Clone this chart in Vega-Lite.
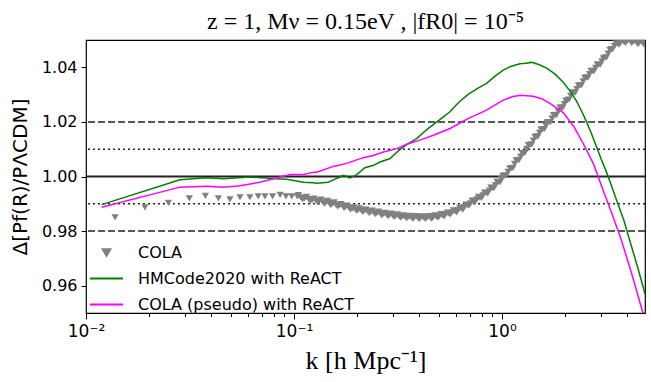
{
  "$schema": "https://vega.github.io/schema/vega-lite/v6.json",
  "width": 559,
  "height": 273,
  "autosize": "none",
  "padding": {"left": 86, "top": 40, "right": 6, "bottom": 69},
  "background": "white",
  "config": {
    "view": {"stroke": "black", "strokeWidth": 1.2},
    "font": "DejaVu Sans",
    "axis": {"grid": false, "domain": false, "tickColor": "black", "labelColor": "black", "titleColor": "black", "labelFont": "DejaVu Sans", "titleFont": "DejaVu Sans", "titleFontWeight": "normal", "labelFontSize": 16, "tickWidth": 1},
    "legend": {
      "title": null,
      "orient": "none",
      "legendX": 3,
      "legendY": 195,
      "labelFontSize": 16,
      "labelFont": "DejaVu Sans",
      "labelColor": "black",
      "labelLimit": 400,
      "symbolSize": 1089,
      "labelOffset": 14,
      "rowPadding": -10,
      "padding": 0
    }
  },
  "title": {"text": "z = 1, Mν = 0.15eV , |fR0| = 10⁻⁵", "font": "Liberation Serif", "fontSize": 24, "fontWeight": "normal", "anchor": "middle", "offset": 6, "color": "black"},
  "datasets": {
    "cola": [
      {"series": "COLA", "k": 0.0138, "v": 0.9850},
      {"series": "COLA", "k": 0.0192, "v": 0.9887},
      {"series": "COLA", "k": 0.0249, "v": 0.9903},
      {"series": "COLA", "k": 0.0314, "v": 0.9920},
      {"series": "COLA", "k": 0.0375, "v": 0.9929},
      {"series": "COLA", "k": 0.0433, "v": 0.9920},
      {"series": "COLA", "k": 0.0492, "v": 0.9916},
      {"series": "COLA", "k": 0.0550, "v": 0.9924},
      {"series": "COLA", "k": 0.0614, "v": 0.9924},
      {"series": "COLA", "k": 0.0673, "v": 0.9927},
      {"series": "COLA", "k": 0.0725, "v": 0.9927},
      {"series": "COLA", "k": 0.0789, "v": 0.9927},
      {"series": "COLA", "k": 0.0858, "v": 0.9933},
      {"series": "COLA", "k": 0.0915, "v": 0.9927},
      {"series": "COLA", "k": 0.0975, "v": 0.9927},
      {"series": "COLA", "k": 0.1037, "v": 0.9927},
      {"series": "COLA", "k": 0.105, "v": 0.9932},
      {"series": "COLA", "k": 0.1075, "v": 0.9924},
      {"series": "COLA", "k": 0.11, "v": 0.9916},
      {"series": "COLA", "k": 0.1125, "v": 0.9920},
      {"series": "COLA", "k": 0.115, "v": 0.9925},
      {"series": "COLA", "k": 0.1175, "v": 0.9917},
      {"series": "COLA", "k": 0.12, "v": 0.9910},
      {"series": "COLA", "k": 0.1225, "v": 0.9914},
      {"series": "COLA", "k": 0.125, "v": 0.9919},
      {"series": "COLA", "k": 0.1275, "v": 0.9912},
      {"series": "COLA", "k": 0.13, "v": 0.9905},
      {"series": "COLA", "k": 0.1325, "v": 0.9910},
      {"series": "COLA", "k": 0.135, "v": 0.9915},
      {"series": "COLA", "k": 0.1375, "v": 0.9907},
      {"series": "COLA", "k": 0.14, "v": 0.9900},
      {"series": "COLA", "k": 0.1425, "v": 0.9905},
      {"series": "COLA", "k": 0.145, "v": 0.9911},
      {"series": "COLA", "k": 0.1475, "v": 0.9903},
      {"series": "COLA", "k": 0.15, "v": 0.9895},
      {"series": "COLA", "k": 0.153, "v": 0.9900},
      {"series": "COLA", "k": 0.156, "v": 0.9905},
      {"series": "COLA", "k": 0.159, "v": 0.9897},
      {"series": "COLA", "k": 0.162, "v": 0.9890},
      {"series": "COLA", "k": 0.165, "v": 0.9894},
      {"series": "COLA", "k": 0.168, "v": 0.9899},
      {"series": "COLA", "k": 0.171, "v": 0.9892},
      {"series": "COLA", "k": 0.174, "v": 0.9885},
      {"series": "COLA", "k": 0.177, "v": 0.9889},
      {"series": "COLA", "k": 0.18, "v": 0.9893},
      {"series": "COLA", "k": 0.1835, "v": 0.9886},
      {"series": "COLA", "k": 0.187, "v": 0.9879},
      {"series": "COLA", "k": 0.1905, "v": 0.9883},
      {"series": "COLA", "k": 0.194, "v": 0.9887},
      {"series": "COLA", "k": 0.197, "v": 0.9880},
      {"series": "COLA", "k": 0.2, "v": 0.9874},
      {"series": "COLA", "k": 0.2035, "v": 0.9878},
      {"series": "COLA", "k": 0.207, "v": 0.9883},
      {"series": "COLA", "k": 0.2105, "v": 0.9876},
      {"series": "COLA", "k": 0.214, "v": 0.9870},
      {"series": "COLA", "k": 0.218, "v": 0.9874},
      {"series": "COLA", "k": 0.222, "v": 0.9879},
      {"series": "COLA", "k": 0.226, "v": 0.9872},
      {"series": "COLA", "k": 0.23, "v": 0.9866},
      {"series": "COLA", "k": 0.234, "v": 0.9870},
      {"series": "COLA", "k": 0.238, "v": 0.9875},
      {"series": "COLA", "k": 0.242, "v": 0.9868},
      {"series": "COLA", "k": 0.246, "v": 0.9862},
      {"series": "COLA", "k": 0.2505, "v": 0.9866},
      {"series": "COLA", "k": 0.255, "v": 0.9871},
      {"series": "COLA", "k": 0.2595, "v": 0.9865},
      {"series": "COLA", "k": 0.264, "v": 0.9858},
      {"series": "COLA", "k": 0.2685, "v": 0.9863},
      {"series": "COLA", "k": 0.273, "v": 0.9867},
      {"series": "COLA", "k": 0.278, "v": 0.9861},
      {"series": "COLA", "k": 0.283, "v": 0.9855},
      {"series": "COLA", "k": 0.288, "v": 0.9859},
      {"series": "COLA", "k": 0.293, "v": 0.9864},
      {"series": "COLA", "k": 0.298, "v": 0.9858},
      {"series": "COLA", "k": 0.303, "v": 0.9852},
      {"series": "COLA", "k": 0.3085, "v": 0.9856},
      {"series": "COLA", "k": 0.314, "v": 0.9861},
      {"series": "COLA", "k": 0.3195, "v": 0.9855},
      {"series": "COLA", "k": 0.325, "v": 0.9849},
      {"series": "COLA", "k": 0.3305, "v": 0.9853},
      {"series": "COLA", "k": 0.336, "v": 0.9858},
      {"series": "COLA", "k": 0.342, "v": 0.9852},
      {"series": "COLA", "k": 0.348, "v": 0.9847},
      {"series": "COLA", "k": 0.354, "v": 0.9851},
      {"series": "COLA", "k": 0.36, "v": 0.9856},
      {"series": "COLA", "k": 0.3665, "v": 0.9850},
      {"series": "COLA", "k": 0.373, "v": 0.9845},
      {"series": "COLA", "k": 0.3795, "v": 0.9850},
      {"series": "COLA", "k": 0.386, "v": 0.9855},
      {"series": "COLA", "k": 0.393, "v": 0.9849},
      {"series": "COLA", "k": 0.4, "v": 0.9844},
      {"series": "COLA", "k": 0.407, "v": 0.9849},
      {"series": "COLA", "k": 0.414, "v": 0.9854},
      {"series": "COLA", "k": 0.421, "v": 0.9849},
      {"series": "COLA", "k": 0.428, "v": 0.9844},
      {"series": "COLA", "k": 0.4355, "v": 0.9849},
      {"series": "COLA", "k": 0.443, "v": 0.9855},
      {"series": "COLA", "k": 0.451, "v": 0.9850},
      {"series": "COLA", "k": 0.459, "v": 0.9845},
      {"series": "COLA", "k": 0.467, "v": 0.9851},
      {"series": "COLA", "k": 0.475, "v": 0.9858},
      {"series": "COLA", "k": 0.4835, "v": 0.9853},
      {"series": "COLA", "k": 0.492, "v": 0.9849},
      {"series": "COLA", "k": 0.5005, "v": 0.9855},
      {"series": "COLA", "k": 0.509, "v": 0.9862},
      {"series": "COLA", "k": 0.518, "v": 0.9858},
      {"series": "COLA", "k": 0.527, "v": 0.9854},
      {"series": "COLA", "k": 0.536, "v": 0.9861},
      {"series": "COLA", "k": 0.545, "v": 0.9868},
      {"series": "COLA", "k": 0.5545, "v": 0.9864},
      {"series": "COLA", "k": 0.564, "v": 0.9861},
      {"series": "COLA", "k": 0.574, "v": 0.9868},
      {"series": "COLA", "k": 0.584, "v": 0.9876},
      {"series": "COLA", "k": 0.5945, "v": 0.9872},
      {"series": "COLA", "k": 0.605, "v": 0.9869},
      {"series": "COLA", "k": 0.6155, "v": 0.9877},
      {"series": "COLA", "k": 0.626, "v": 0.9885},
      {"series": "COLA", "k": 0.637, "v": 0.9882},
      {"series": "COLA", "k": 0.648, "v": 0.9879},
      {"series": "COLA", "k": 0.6595, "v": 0.9888},
      {"series": "COLA", "k": 0.671, "v": 0.9897},
      {"series": "COLA", "k": 0.6825, "v": 0.9895},
      {"series": "COLA", "k": 0.694, "v": 0.9893},
      {"series": "COLA", "k": 0.706, "v": 0.9902},
      {"series": "COLA", "k": 0.718, "v": 0.9912},
      {"series": "COLA", "k": 0.7305, "v": 0.9909},
      {"series": "COLA", "k": 0.743, "v": 0.9907},
      {"series": "COLA", "k": 0.7565, "v": 0.9916},
      {"series": "COLA", "k": 0.77, "v": 0.9925},
      {"series": "COLA", "k": 0.7835, "v": 0.9923},
      {"series": "COLA", "k": 0.797, "v": 0.9922},
      {"series": "COLA", "k": 0.811, "v": 0.9931},
      {"series": "COLA", "k": 0.825, "v": 0.9941},
      {"series": "COLA", "k": 0.8395, "v": 0.9940},
      {"series": "COLA", "k": 0.854, "v": 0.9938},
      {"series": "COLA", "k": 0.869, "v": 0.9948},
      {"series": "COLA", "k": 0.884, "v": 0.9959},
      {"series": "COLA", "k": 0.8995, "v": 0.9958},
      {"series": "COLA", "k": 0.915, "v": 0.9957},
      {"series": "COLA", "k": 0.931, "v": 0.9968},
      {"series": "COLA", "k": 0.947, "v": 0.9980},
      {"series": "COLA", "k": 0.9635, "v": 0.9980},
      {"series": "COLA", "k": 0.98, "v": 0.9979},
      {"series": "COLA", "k": 0.995, "v": 0.9990},
      {"series": "COLA", "k": 1.01, "v": 1.0002},
      {"series": "COLA", "k": 1.03, "v": 1.0003},
      {"series": "COLA", "k": 1.05, "v": 1.0004},
      {"series": "COLA", "k": 1.07, "v": 1.0017},
      {"series": "COLA", "k": 1.09, "v": 1.0030},
      {"series": "COLA", "k": 1.11, "v": 1.0031},
      {"series": "COLA", "k": 1.13, "v": 1.0032},
      {"series": "COLA", "k": 1.15, "v": 1.0046},
      {"series": "COLA", "k": 1.17, "v": 1.0059},
      {"series": "COLA", "k": 1.19, "v": 1.0060},
      {"series": "COLA", "k": 1.21, "v": 1.0061},
      {"series": "COLA", "k": 1.23, "v": 1.0073},
      {"series": "COLA", "k": 1.25, "v": 1.0086},
      {"series": "COLA", "k": 1.27, "v": 1.0086},
      {"series": "COLA", "k": 1.29, "v": 1.0087},
      {"series": "COLA", "k": 1.315, "v": 1.0101},
      {"series": "COLA", "k": 1.34, "v": 1.0115},
      {"series": "COLA", "k": 1.365, "v": 1.0116},
      {"series": "COLA", "k": 1.39, "v": 1.0118},
      {"series": "COLA", "k": 1.415, "v": 1.0131},
      {"series": "COLA", "k": 1.44, "v": 1.0145},
      {"series": "COLA", "k": 1.465, "v": 1.0146},
      {"series": "COLA", "k": 1.49, "v": 1.0147},
      {"series": "COLA", "k": 1.515, "v": 1.0160},
      {"series": "COLA", "k": 1.54, "v": 1.0172},
      {"series": "COLA", "k": 1.57, "v": 1.0173},
      {"series": "COLA", "k": 1.6, "v": 1.0174},
      {"series": "COLA", "k": 1.625, "v": 1.0186},
      {"series": "COLA", "k": 1.65, "v": 1.0198},
      {"series": "COLA", "k": 1.68, "v": 1.0199},
      {"series": "COLA", "k": 1.71, "v": 1.0199},
      {"series": "COLA", "k": 1.74, "v": 1.0212},
      {"series": "COLA", "k": 1.77, "v": 1.0225},
      {"series": "COLA", "k": 1.80, "v": 1.0225},
      {"series": "COLA", "k": 1.83, "v": 1.0226},
      {"series": "COLA", "k": 1.865, "v": 1.0239},
      {"series": "COLA", "k": 1.9, "v": 1.0252},
      {"series": "COLA", "k": 1.93, "v": 1.0252},
      {"series": "COLA", "k": 1.96, "v": 1.0252},
      {"series": "COLA", "k": 1.995, "v": 1.0265},
      {"series": "COLA", "k": 2.03, "v": 1.0277},
      {"series": "COLA", "k": 2.065, "v": 1.0280},
      {"series": "COLA", "k": 2.1, "v": 1.0282},
      {"series": "COLA", "k": 2.14, "v": 1.0295},
      {"series": "COLA", "k": 2.18, "v": 1.0307},
      {"series": "COLA", "k": 2.215, "v": 1.0307},
      {"series": "COLA", "k": 2.25, "v": 1.0307},
      {"series": "COLA", "k": 2.29, "v": 1.0320},
      {"series": "COLA", "k": 2.33, "v": 1.0333},
      {"series": "COLA", "k": 2.37, "v": 1.0334},
      {"series": "COLA", "k": 2.41, "v": 1.0335},
      {"series": "COLA", "k": 2.455, "v": 1.0348},
      {"series": "COLA", "k": 2.5, "v": 1.0361},
      {"series": "COLA", "k": 2.545, "v": 1.0362},
      {"series": "COLA", "k": 2.59, "v": 1.0362},
      {"series": "COLA", "k": 2.635, "v": 1.0375},
      {"series": "COLA", "k": 2.68, "v": 1.0387},
      {"series": "COLA", "k": 2.725, "v": 1.0387},
      {"series": "COLA", "k": 2.77, "v": 1.0386},
      {"series": "COLA", "k": 2.82, "v": 1.0398},
      {"series": "COLA", "k": 2.87, "v": 1.0410},
      {"series": "COLA", "k": 2.92, "v": 1.0410},
      {"series": "COLA", "k": 2.97, "v": 1.0410},
      {"series": "COLA", "k": 3.02, "v": 1.0422},
      {"series": "COLA", "k": 3.07, "v": 1.0433},
      {"series": "COLA", "k": 3.125, "v": 1.0435},
      {"series": "COLA", "k": 3.18, "v": 1.0436},
      {"series": "COLA", "k": 3.24, "v": 1.0450},
      {"series": "COLA", "k": 3.3, "v": 1.0464},
      {"series": "COLA", "k": 3.355, "v": 1.0466},
      {"series": "COLA", "k": 3.41, "v": 1.0467},
      {"series": "COLA", "k": 3.47, "v": 1.0478},
      {"series": "COLA", "k": 3.53, "v": 1.0488},
      {"series": "COLA", "k": 3.595, "v": 1.0486},
      {"series": "COLA", "k": 3.66, "v": 1.0483},
      {"series": "COLA", "k": 3.72, "v": 1.0491},
      {"series": "COLA", "k": 3.78, "v": 1.0499},
      {"series": "COLA", "k": 3.85, "v": 1.0494},
      {"series": "COLA", "k": 3.92, "v": 1.0489},
      {"series": "COLA", "k": 3.99, "v": 1.0496},
      {"series": "COLA", "k": 4.06, "v": 1.0502},
      {"series": "COLA", "k": 4.13, "v": 1.0496},
      {"series": "COLA", "k": 4.2, "v": 1.0489},
      {"series": "COLA", "k": 4.275, "v": 1.0494},
      {"series": "COLA", "k": 4.35, "v": 1.0499},
      {"series": "COLA", "k": 4.425, "v": 1.0492},
      {"series": "COLA", "k": 4.5, "v": 1.0485},
      {"series": "COLA", "k": 4.58, "v": 1.0490},
      {"series": "COLA", "k": 4.66, "v": 1.0496},
      {"series": "COLA", "k": 4.74, "v": 1.0490},
      {"series": "COLA", "k": 4.82, "v": 1.0483}
    ],
    "hmcode": [
      {"series": "HMCode2020 with ReACT", "k": 0.0119, "v": 0.9897},
      {"series": "HMCode2020 with ReACT", "k": 0.0283, "v": 0.9988},
      {"series": "HMCode2020 with ReACT", "k": 0.038, "v": 0.9995},
      {"series": "HMCode2020 with ReACT", "k": 0.0457, "v": 0.9992},
      {"series": "HMCode2020 with ReACT", "k": 0.0614, "v": 0.9998},
      {"series": "HMCode2020 with ReACT", "k": 0.0858, "v": 0.9991},
      {"series": "HMCode2020 with ReACT", "k": 0.0923, "v": 0.9990},
      {"series": "HMCode2020 with ReACT", "k": 0.111, "v": 0.9979},
      {"series": "HMCode2020 with ReACT", "k": 0.124, "v": 0.9977},
      {"series": "HMCode2020 with ReACT", "k": 0.1286, "v": 0.9975},
      {"series": "HMCode2020 with ReACT", "k": 0.146, "v": 0.9979},
      {"series": "HMCode2020 with ReACT", "k": 0.149, "v": 0.9982},
      {"series": "HMCode2020 with ReACT", "k": 0.166, "v": 0.9998},
      {"series": "HMCode2020 with ReACT", "k": 0.1726, "v": 1.0004},
      {"series": "HMCode2020 with ReACT", "k": 0.1858, "v": 0.9995},
      {"series": "HMCode2020 with ReACT", "k": 0.2, "v": 1.0007},
      {"series": "HMCode2020 with ReACT", "k": 0.207, "v": 1.0016},
      {"series": "HMCode2020 with ReACT", "k": 0.219, "v": 1.0032},
      {"series": "HMCode2020 with ReACT", "k": 0.24, "v": 1.0040},
      {"series": "HMCode2020 with ReACT", "k": 0.259, "v": 1.0053},
      {"series": "HMCode2020 with ReACT", "k": 0.29, "v": 1.0066},
      {"series": "HMCode2020 with ReACT", "k": 0.30, "v": 1.0077},
      {"series": "HMCode2020 with ReACT", "k": 0.325, "v": 1.0100},
      {"series": "HMCode2020 with ReACT", "k": 0.348, "v": 1.0117},
      {"series": "HMCode2020 with ReACT", "k": 0.39, "v": 1.0140},
      {"series": "HMCode2020 with ReACT", "k": 0.435, "v": 1.0172},
      {"series": "HMCode2020 with ReACT", "k": 0.49, "v": 1.0202},
      {"series": "HMCode2020 with ReACT", "k": 0.562, "v": 1.0237},
      {"series": "HMCode2020 with ReACT", "k": 0.62, "v": 1.0272},
      {"series": "HMCode2020 with ReACT", "k": 0.69, "v": 1.0302},
      {"series": "HMCode2020 with ReACT", "k": 0.76, "v": 1.0322},
      {"series": "HMCode2020 with ReACT", "k": 0.843, "v": 1.0341},
      {"series": "HMCode2020 with ReACT", "k": 0.92, "v": 1.0366},
      {"series": "HMCode2020 with ReACT", "k": 1.014, "v": 1.0390},
      {"series": "HMCode2020 with ReACT", "k": 1.1, "v": 1.0403},
      {"series": "HMCode2020 with ReACT", "k": 1.22, "v": 1.0413},
      {"series": "HMCode2020 with ReACT", "k": 1.3, "v": 1.0415},
      {"series": "HMCode2020 with ReACT", "k": 1.388, "v": 1.0418},
      {"series": "HMCode2020 with ReACT", "k": 1.5, "v": 1.0410},
      {"series": "HMCode2020 with ReACT", "k": 1.64, "v": 1.0397},
      {"series": "HMCode2020 with ReACT", "k": 1.8, "v": 1.0375},
      {"series": "HMCode2020 with ReACT", "k": 1.97, "v": 1.0345},
      {"series": "HMCode2020 with ReACT", "k": 2.13, "v": 1.0312},
      {"series": "HMCode2020 with ReACT", "k": 2.29, "v": 1.0274},
      {"series": "HMCode2020 with ReACT", "k": 2.42, "v": 1.0238},
      {"series": "HMCode2020 with ReACT", "k": 2.55, "v": 1.0200},
      {"series": "HMCode2020 with ReACT", "k": 2.7, "v": 1.0155},
      {"series": "HMCode2020 with ReACT", "k": 2.85, "v": 1.0108},
      {"series": "HMCode2020 with ReACT", "k": 3.0, "v": 1.0063},
      {"series": "HMCode2020 with ReACT", "k": 3.18, "v": 1.0016},
      {"series": "HMCode2020 with ReACT", "k": 3.36, "v": 0.9966},
      {"series": "HMCode2020 with ReACT", "k": 3.56, "v": 0.9912},
      {"series": "HMCode2020 with ReACT", "k": 3.86, "v": 0.9838},
      {"series": "HMCode2020 with ReACT", "k": 4.12, "v": 0.9764},
      {"series": "HMCode2020 with ReACT", "k": 4.5, "v": 0.9665},
      {"series": "HMCode2020 with ReACT", "k": 4.87, "v": 0.9570}
    ],
    "pseudo": [
      {"series": "COLA (pseudo) with ReACT", "k": 0.0119, "v": 0.9887},
      {"series": "COLA (pseudo) with ReACT", "k": 0.0283, "v": 0.9961},
      {"series": "COLA (pseudo) with ReACT", "k": 0.038, "v": 0.9964},
      {"series": "COLA (pseudo) with ReACT", "k": 0.0457, "v": 0.9961},
      {"series": "COLA (pseudo) with ReACT", "k": 0.055, "v": 0.9966},
      {"series": "COLA (pseudo) with ReACT", "k": 0.0687, "v": 0.9979},
      {"series": "COLA (pseudo) with ReACT", "k": 0.0858, "v": 0.9998},
      {"series": "COLA (pseudo) with ReACT", "k": 0.0958, "v": 1.0007},
      {"series": "COLA (pseudo) with ReACT", "k": 0.111, "v": 1.0007},
      {"series": "COLA (pseudo) with ReACT", "k": 0.124, "v": 1.0016},
      {"series": "COLA (pseudo) with ReACT", "k": 0.1286, "v": 1.0016},
      {"series": "COLA (pseudo) with ReACT", "k": 0.1545, "v": 1.0037},
      {"series": "COLA (pseudo) with ReACT", "k": 0.179, "v": 1.0048},
      {"series": "COLA (pseudo) with ReACT", "k": 0.215, "v": 1.0069},
      {"series": "COLA (pseudo) with ReACT", "k": 0.24, "v": 1.0077},
      {"series": "COLA (pseudo) with ReACT", "k": 0.269, "v": 1.0090},
      {"series": "COLA (pseudo) with ReACT", "k": 0.312, "v": 1.0102},
      {"series": "COLA (pseudo) with ReACT", "k": 0.348, "v": 1.0118},
      {"series": "COLA (pseudo) with ReACT", "k": 0.41, "v": 1.0135},
      {"series": "COLA (pseudo) with ReACT", "k": 0.468, "v": 1.0151},
      {"series": "COLA (pseudo) with ReACT", "k": 0.562, "v": 1.0176},
      {"series": "COLA (pseudo) with ReACT", "k": 0.69, "v": 1.0213},
      {"series": "COLA (pseudo) with ReACT", "k": 0.843, "v": 1.0243},
      {"series": "COLA (pseudo) with ReACT", "k": 1.014, "v": 1.0280},
      {"series": "COLA (pseudo) with ReACT", "k": 1.12, "v": 1.0292},
      {"series": "COLA (pseudo) with ReACT", "k": 1.22, "v": 1.0298},
      {"series": "COLA (pseudo) with ReACT", "k": 1.415, "v": 1.0294},
      {"series": "COLA (pseudo) with ReACT", "k": 1.55, "v": 1.0285},
      {"series": "COLA (pseudo) with ReACT", "k": 1.70, "v": 1.0268},
      {"series": "COLA (pseudo) with ReACT", "k": 1.97, "v": 1.0234},
      {"series": "COLA (pseudo) with ReACT", "k": 2.22, "v": 1.0182},
      {"series": "COLA (pseudo) with ReACT", "k": 2.46, "v": 1.0120},
      {"series": "COLA (pseudo) with ReACT", "k": 2.75, "v": 1.0047},
      {"series": "COLA (pseudo) with ReACT", "k": 3.07, "v": 0.9948},
      {"series": "COLA (pseudo) with ReACT", "k": 3.43, "v": 0.9850},
      {"series": "COLA (pseudo) with ReACT", "k": 3.76, "v": 0.9764},
      {"series": "COLA (pseudo) with ReACT", "k": 4.2, "v": 0.9645},
      {"series": "COLA (pseudo) with ReACT", "k": 4.5, "v": 0.9565},
      {"series": "COLA (pseudo) with ReACT", "k": 4.76, "v": 0.9500},
      {"series": "COLA (pseudo) with ReACT", "k": 4.87, "v": 0.9465}
    ]
  },
  "layer": [
    {
      "data": {"values": [{"y": 0.98}, {"y": 1.02}]},
      "mark": {"type": "rule", "color": "#222222", "strokeWidth": 1.5, "strokeDash": [7, 3]},
      "encoding": {"y": {"field": "y", "type": "quantitative", "scale": {"domain": [0.95, 1.05], "nice": false, "zero": false}}}
    },
    {
      "data": {"values": [{"y": 0.99}, {"y": 1.01}]},
      "mark": {"type": "rule", "color": "#222222", "strokeWidth": 1.5, "strokeDash": [2, 3]},
      "encoding": {"y": {"field": "y", "type": "quantitative"}}
    },
    {
      "data": {"values": [{"y": 1.0}]},
      "mark": {"type": "rule", "color": "#222222", "strokeWidth": 1.8},
      "encoding": {"y": {"field": "y", "type": "quantitative"}}
    },
    {
      "data": {"name": "cola"},
      "mark": {"type": "point", "shape": "triangle-down", "filled": true, "size": 52, "opacity": 1, "clip": true},
      "encoding": {
        "x": {
          "field": "k", "type": "quantitative",
          "scale": {"type": "log", "domain": [0.01, 4.87], "nice": false},
          "axis": {
            "values": [0.01, 0.02, 0.03, 0.04, 0.05, 0.06, 0.07, 0.08, 0.09, 0.1, 0.2, 0.3, 0.4, 0.5, 0.6, 0.7, 0.8, 0.9, 1, 2, 3, 4],
            "labelExpr": "datum.value == 0.01 ? '10⁻²' : datum.value == 0.1 ? '10⁻¹' : datum.value == 1 ? '10⁰' : ''",
            "tickSize": {"condition": {"test": "datum.value == 0.01 || datum.value == 0.1 || datum.value == 1", "value": 6}, "value": 3.5},
            "labelFontSize": 17,
            "labelPadding": 4,
            "title": "k [h Mpc⁻¹]",
            "titleFontSize": 26,
            "titleFont": "Liberation Serif",
            "titlePadding": 8,
            "labelFlush": false,
            "labelOverlap": false
          }
        },
        "y": {
          "field": "v", "type": "quantitative",
          "scale": {"domain": [0.95, 1.05], "nice": false, "zero": false},
          "axis": {
            "values": [0.96, 0.98, 1.0, 1.02, 1.04],
            "format": ".2f",
            "tickSize": 5,
            "labelPadding": 4,
            "title": "Δ[Pf(R)/PΛCDM]",
            "titleFontSize": 20,
            "titlePadding": 11
          }
        },
        "color": {
          "field": "series", "type": "nominal",
          "scale": {"domain": ["COLA", "HMCode2020 with ReACT", "COLA (pseudo) with ReACT"], "range": ["#808080", "#008000", "#ff00ff"]},
          "legend": {
            "encode": {
              "symbols": {
                "update": {
                  "shape": {"signal": "datum.value === 'COLA' ? 'triangle-down' : 'stroke'"},
                  "size": {"signal": "datum.value === 'COLA' ? 60 : 1089"},
                  "fill": {"signal": "datum.value === 'COLA' ? '#808080' : 'transparent'"},
                  "stroke": {"signal": "datum.value === 'COLA' ? 'transparent' : scale('color', datum.value)"},
                  "strokeWidth": {"value": 2},
                  "opacity": {"value": 1}
                }
              }
            }
          }
        }
      }
    },
    {
      "data": {"name": "hmcode"},
      "mark": {"type": "line", "strokeWidth": 1.5, "clip": true},
      "encoding": {
        "x": {"field": "k", "type": "quantitative"},
        "y": {"field": "v", "type": "quantitative"},
        "color": {
          "field": "series", "type": "nominal",
          "legend": {
            "encode": {
              "symbols": {
                "update": {
                  "shape": {"signal": "datum.value === 'COLA' ? 'triangle-down' : 'stroke'"},
                  "size": {"signal": "datum.value === 'COLA' ? 60 : 1089"},
                  "fill": {"signal": "datum.value === 'COLA' ? '#808080' : 'transparent'"},
                  "stroke": {"signal": "datum.value === 'COLA' ? 'transparent' : scale('color', datum.value)"},
                  "strokeWidth": {"value": 2},
                  "opacity": {"value": 1}
                }
              }
            }
          }
        }
      }
    },
    {
      "data": {"name": "pseudo"},
      "mark": {"type": "line", "strokeWidth": 1.5, "clip": true},
      "encoding": {
        "x": {"field": "k", "type": "quantitative"},
        "y": {"field": "v", "type": "quantitative"},
        "color": {
          "field": "series", "type": "nominal",
          "legend": {
            "encode": {
              "symbols": {
                "update": {
                  "shape": {"signal": "datum.value === 'COLA' ? 'triangle-down' : 'stroke'"},
                  "size": {"signal": "datum.value === 'COLA' ? 60 : 1089"},
                  "fill": {"signal": "datum.value === 'COLA' ? '#808080' : 'transparent'"},
                  "stroke": {"signal": "datum.value === 'COLA' ? 'transparent' : scale('color', datum.value)"},
                  "strokeWidth": {"value": 2},
                  "opacity": {"value": 1}
                }
              }
            }
          }
        }
      }
    }
  ]
}
